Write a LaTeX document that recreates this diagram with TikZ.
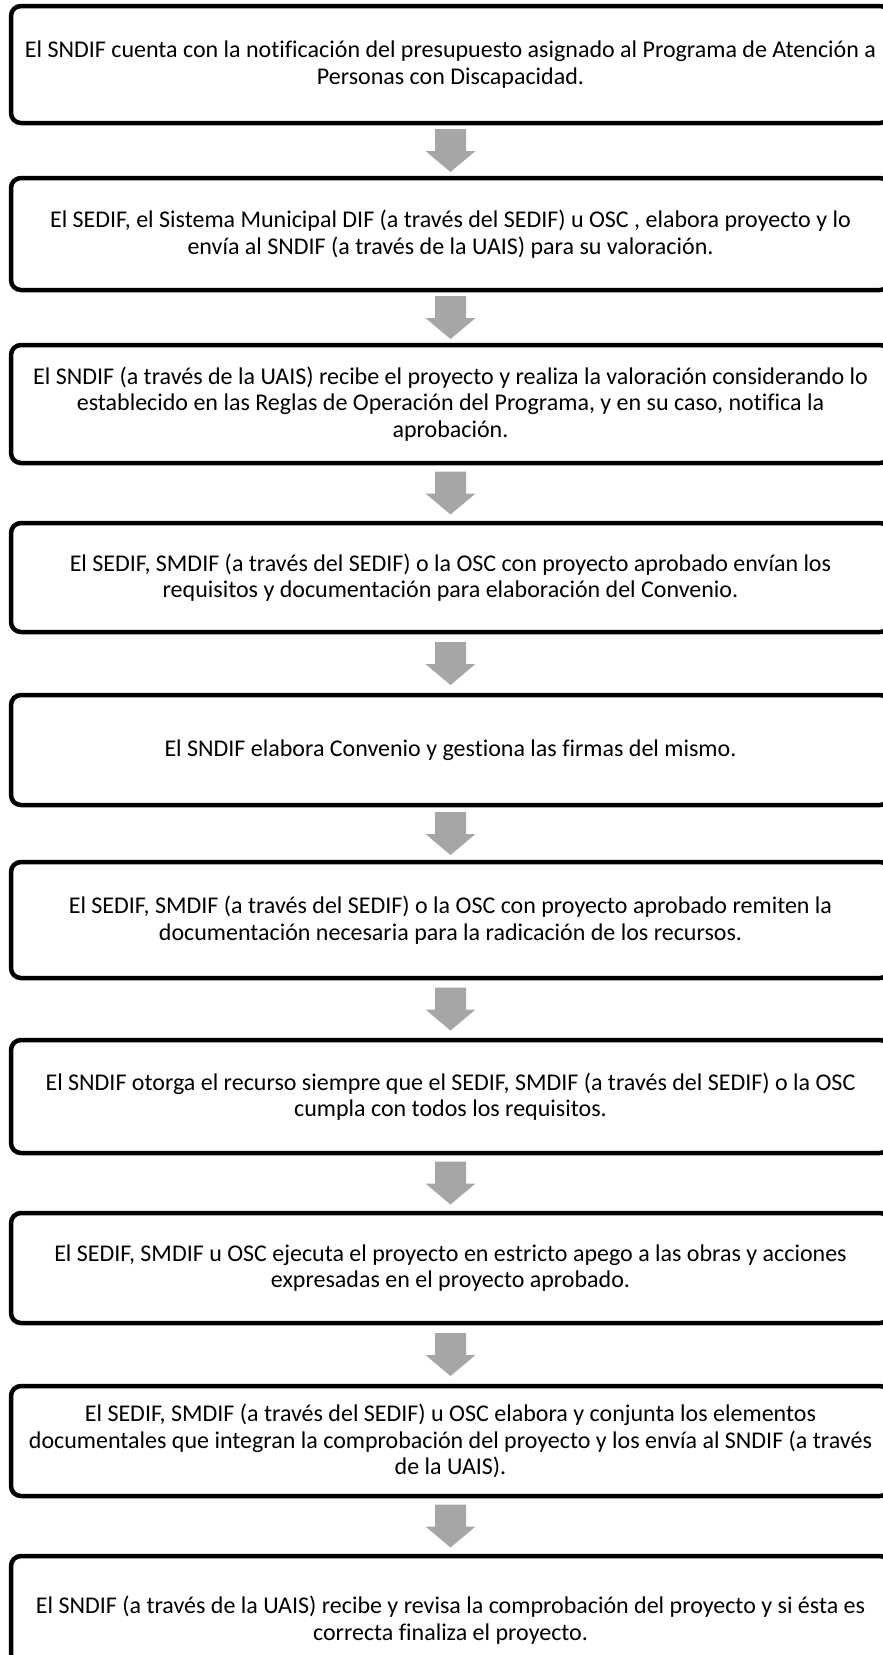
\documentclass[tikz,border=0pt]{standalone}
\usepackage{fontspec}
\setmainfont{Carlito}[Ligatures=NoCommon]
\usetikzlibrary{calc}
\definecolor{flechagris}{RGB}{166,166,166}

\begin{document}
\begin{tikzpicture}[x=1pt, y=-1pt,
    paso/.style={draw, line width=4.5pt, rounded corners=10pt, minimum width=879pt,
        inner sep=0pt, align=center, font=\fontsize{24}{26.5}\selectfont}]
    \useasboundingbox (0,0) rectangle (883,1655);
    % pasos del procedimiento
    \node[paso, minimum height=117pt] (p1) at (450.5,64.5) {El SNDIF cuenta con la notificación del presupuesto asignado al Programa de Atención a\\Personas con Discapacidad.};
    \node[paso, minimum height=112pt] (p2) at (450.5,234) {El SEDIF, el Sistema Municipal DIF (a través del SEDIF) u OSC , elabora proyecto y lo\\envía al SNDIF (a través de la UAIS) para su valoración.};
    \node[paso, minimum height=118pt] (p3) at (450.5,404) {El SNDIF (a través de la UAIS) recibe el proyecto y realiza la valoración considerando lo\\establecido en las Reglas de Operación del Programa, y en su caso, notifica la\\aprobación.};
    \node[paso, minimum height=109pt] (p4) at (450.5,577.5) {El SEDIF, SMDIF (a través del SEDIF) o la OSC con proyecto aprobado envían los\\requisitos y documentación para elaboración del Convenio.};
    \node[paso, minimum height=110pt] (p5) at (450.5,750) {El SNDIF elabora Convenio y gestiona las firmas del mismo.};
    \node[paso, minimum height=116pt] (p6) at (450.5,920) {El SEDIF, SMDIF (a través del SEDIF) o la OSC con proyecto aprobado remiten la\\documentación necesaria para la radicación de los recursos.};
    \node[paso, minimum height=113pt] (p7) at (450.5,1096.5) {El SNDIF otorga el recurso siempre que el SEDIF, SMDIF (a través del SEDIF) o la OSC\\cumpla con todos los requisitos.};
    \node[paso, minimum height=110pt] (p8) at (450.5,1268) {El SEDIF, SMDIF u OSC ejecuta el proyecto en estricto apego a las obras y acciones\\expresadas en el proyecto aprobado.};
    \node[paso, minimum height=110pt] (p9) at (450.5,1441) {El SEDIF, SMDIF (a través del SEDIF) u OSC elabora y conjunta los elementos\\documentales que integran la comprobación del proyecto y los envía al SNDIF (a través\\de la UAIS).};
    \node[paso, minimum height=128pt] (p10) at (450.5,1620) {El SNDIF (a través de la UAIS) recibe y revisa la comprobación del proyecto y si ésta es\\correcta finaliza el proyecto.};
    % flechas entre pasos
    \foreach \a/\b in {p1/p2, p2/p3, p3/p4, p4/p5, p5/p6, p6/p7, p7/p8, p8/p9, p9/p10}
        \fill[flechagris] ($(\a.south)!0.5!(\b.north)$) ++(-15.5,-21.5) -- ++(31,0) -- ++(0,22)
            -- ++(9.5,0) -- ++(-25,21) -- ++(-25,-21) -- ++(9.5,0) -- cycle;
\end{tikzpicture}
\end{document}
